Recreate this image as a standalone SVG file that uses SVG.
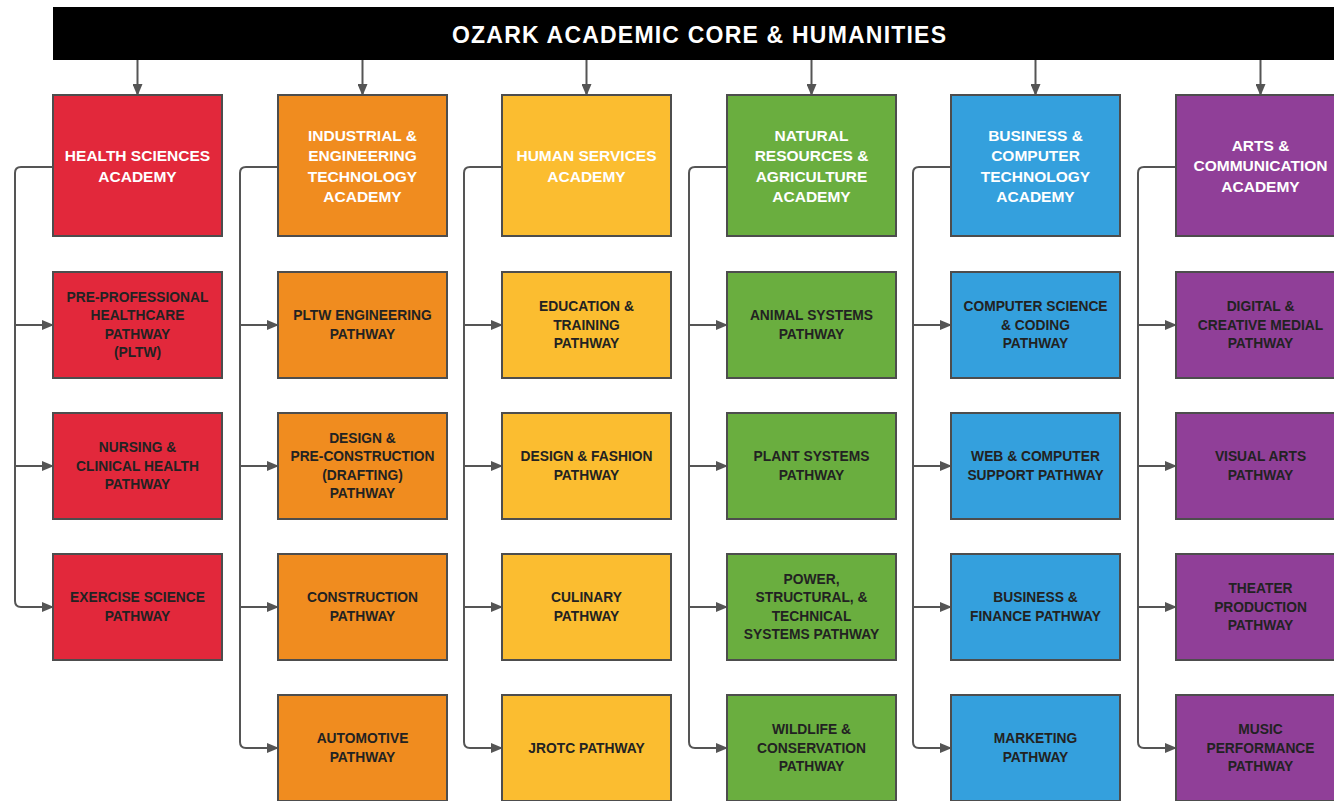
<svg xmlns="http://www.w3.org/2000/svg" width="1334" height="801" viewBox="0 0 1334 801">
<style>
.box{stroke:#4d4d4d;stroke-width:2}
.red{fill:#E2283B}.org{fill:#F08C1F}.yel{fill:#FBBD30}.grn{fill:#6AAE3F}.blu{fill:#34A0DD}.pur{fill:#903F98}
.ac{font-family:"Liberation Sans",Arial,sans-serif;font-weight:bold;font-size:15.5px;fill:#fff;text-anchor:middle}
.pw{font-family:"Liberation Sans",Arial,sans-serif;font-weight:bold;font-size:13.8px;fill:#222;text-anchor:middle}
.ttl{font-family:"Liberation Sans",Arial,sans-serif;font-weight:bold;font-size:23px;fill:#fff;text-anchor:middle}
.con{fill:none;stroke:#555;stroke-width:2}
</style>
<defs>
<marker id="ah" markerUnits="userSpaceOnUse" markerWidth="12" markerHeight="10" refX="11" refY="5" orient="auto">
<path d="M0,0 L12,5 L0,10 Z" fill="#555"/>
</marker>
</defs>
<rect width="1334" height="801" fill="#fff"/>
<g id="banner">
<rect x="53" y="7" width="1290" height="53" fill="#000"/>
<text class="ttl" x="699" y="43" textLength="494" lengthAdjust="spacing">OZARK ACADEMIC CORE &amp; HUMANITIES</text>
</g>
<g id="connectors">
<path class="con" marker-end="url(#ah)" d="M137.5,60 V95"/>
<path class="con" marker-end="url(#ah)" d="M362.5,60 V95"/>
<path class="con" marker-end="url(#ah)" d="M586.5,60 V95"/>
<path class="con" marker-end="url(#ah)" d="M811.5,60 V95"/>
<path class="con" marker-end="url(#ah)" d="M1035.5,60 V95"/>
<path class="con" marker-end="url(#ah)" d="M1260.5,60 V95"/>
<path class="con" marker-end="url(#ah)" d="M53,167 H21 Q15,167 15,173 V601 Q15,607 21,607 H53"/>
<path class="con" marker-end="url(#ah)" d="M15,325 H53"/>
<path class="con" marker-end="url(#ah)" d="M15,466 H53"/>
<path class="con" marker-end="url(#ah)" d="M278,167 H246 Q240,167 240,173 V742 Q240,748 246,748 H278"/>
<path class="con" marker-end="url(#ah)" d="M240,325 H278"/>
<path class="con" marker-end="url(#ah)" d="M240,466 H278"/>
<path class="con" marker-end="url(#ah)" d="M240,607 H278"/>
<path class="con" marker-end="url(#ah)" d="M502,167 H470 Q464,167 464,173 V742 Q464,748 470,748 H502"/>
<path class="con" marker-end="url(#ah)" d="M464,325 H502"/>
<path class="con" marker-end="url(#ah)" d="M464,466 H502"/>
<path class="con" marker-end="url(#ah)" d="M464,607 H502"/>
<path class="con" marker-end="url(#ah)" d="M727,167 H695 Q689,167 689,173 V742 Q689,748 695,748 H727"/>
<path class="con" marker-end="url(#ah)" d="M689,325 H727"/>
<path class="con" marker-end="url(#ah)" d="M689,466 H727"/>
<path class="con" marker-end="url(#ah)" d="M689,607 H727"/>
<path class="con" marker-end="url(#ah)" d="M951,167 H919 Q913,167 913,173 V742 Q913,748 919,748 H951"/>
<path class="con" marker-end="url(#ah)" d="M913,325 H951"/>
<path class="con" marker-end="url(#ah)" d="M913,466 H951"/>
<path class="con" marker-end="url(#ah)" d="M913,607 H951"/>
<path class="con" marker-end="url(#ah)" d="M1176,167 H1144 Q1138,167 1138,173 V742 Q1138,748 1144,748 H1176"/>
<path class="con" marker-end="url(#ah)" d="M1138,325 H1176"/>
<path class="con" marker-end="url(#ah)" d="M1138,466 H1176"/>
<path class="con" marker-end="url(#ah)" d="M1138,607 H1176"/>
</g>

<!-- Column 1: Health Sciences -->
<g id="health-academy"><rect class="box red" x="53" y="95" width="169" height="141"/>
<text class="ac"><tspan x="137.5" y="161">HEALTH SCIENCES</tspan><tspan x="137.5" y="181.5">ACADEMY</tspan></text></g>
<g id="health-p1"><rect class="box red" x="53" y="272" width="169" height="106"/>
<text class="pw"><tspan x="137.5" y="301.95">PRE-PROFESSIONAL</tspan><tspan x="137.5" y="320.45">HEALTHCARE</tspan><tspan x="137.5" y="338.95">PATHWAY</tspan><tspan x="137.5" y="357.45">(PLTW)</tspan></text></g>
<g id="health-p2"><rect class="box red" x="53" y="413" width="169" height="106"/>
<text class="pw"><tspan x="137.5" y="452.2">NURSING &amp;</tspan><tspan x="137.5" y="470.7">CLINICAL HEALTH</tspan><tspan x="137.5" y="489.2">PATHWAY</tspan></text></g>
<g id="health-p3"><rect class="box red" x="53" y="554" width="169" height="106"/>
<text class="pw"><tspan x="137.5" y="602.45">EXERCISE SCIENCE</tspan><tspan x="137.5" y="620.95">PATHWAY</tspan></text></g>

<!-- Column 2: Industrial & Engineering -->
<g id="industrial-academy"><rect class="box org" x="278" y="95" width="169" height="141"/>
<text class="ac"><tspan x="362.5" y="140.5">INDUSTRIAL &amp;</tspan><tspan x="362.5" y="161">ENGINEERING</tspan><tspan x="362.5" y="181.5">TECHNOLOGY</tspan><tspan x="362.5" y="202">ACADEMY</tspan></text></g>
<g id="industrial-p1"><rect class="box org" x="278" y="272" width="169" height="106"/>
<text class="pw"><tspan x="362.5" y="320.45">PLTW ENGINEERING</tspan><tspan x="362.5" y="338.95">PATHWAY</tspan></text></g>
<g id="industrial-p2"><rect class="box org" x="278" y="413" width="169" height="106"/>
<text class="pw"><tspan x="362.5" y="442.95">DESIGN &amp;</tspan><tspan x="362.5" y="461.45">PRE-CONSTRUCTION</tspan><tspan x="362.5" y="479.95">(DRAFTING)</tspan><tspan x="362.5" y="498.45">PATHWAY</tspan></text></g>
<g id="industrial-p3"><rect class="box org" x="278" y="554" width="169" height="106"/>
<text class="pw"><tspan x="362.5" y="602.45">CONSTRUCTION</tspan><tspan x="362.5" y="620.95">PATHWAY</tspan></text></g>
<g id="industrial-p4"><rect class="box org" x="278" y="695" width="169" height="106"/>
<text class="pw"><tspan x="362.5" y="743.45">AUTOMOTIVE</tspan><tspan x="362.5" y="761.95">PATHWAY</tspan></text></g>

<!-- Column 3: Human Services -->
<g id="human-academy"><rect class="box yel" x="502" y="95" width="169" height="141"/>
<text class="ac"><tspan x="586.5" y="161">HUMAN SERVICES</tspan><tspan x="586.5" y="181.5">ACADEMY</tspan></text></g>
<g id="human-p1"><rect class="box yel" x="502" y="272" width="169" height="106"/>
<text class="pw"><tspan x="586.5" y="311.2">EDUCATION &amp;</tspan><tspan x="586.5" y="329.7">TRAINING</tspan><tspan x="586.5" y="348.2">PATHWAY</tspan></text></g>
<g id="human-p2"><rect class="box yel" x="502" y="413" width="169" height="106"/>
<text class="pw"><tspan x="586.5" y="461.45">DESIGN &amp; FASHION</tspan><tspan x="586.5" y="479.95">PATHWAY</tspan></text></g>
<g id="human-p3"><rect class="box yel" x="502" y="554" width="169" height="106"/>
<text class="pw"><tspan x="586.5" y="602.45">CULINARY</tspan><tspan x="586.5" y="620.95">PATHWAY</tspan></text></g>
<g id="human-p4"><rect class="box yel" x="502" y="695" width="169" height="106"/>
<text class="pw"><tspan x="586.5" y="752.7">JROTC PATHWAY</tspan></text></g>

<!-- Column 4: Natural Resources -->
<g id="natural-academy"><rect class="box grn" x="727" y="95" width="169" height="141"/>
<text class="ac"><tspan x="811.5" y="140.5">NATURAL</tspan><tspan x="811.5" y="161">RESOURCES &amp;</tspan><tspan x="811.5" y="181.5">AGRICULTURE</tspan><tspan x="811.5" y="202">ACADEMY</tspan></text></g>
<g id="natural-p1"><rect class="box grn" x="727" y="272" width="169" height="106"/>
<text class="pw"><tspan x="811.5" y="320.45">ANIMAL SYSTEMS</tspan><tspan x="811.5" y="338.95">PATHWAY</tspan></text></g>
<g id="natural-p2"><rect class="box grn" x="727" y="413" width="169" height="106"/>
<text class="pw"><tspan x="811.5" y="461.45">PLANT SYSTEMS</tspan><tspan x="811.5" y="479.95">PATHWAY</tspan></text></g>
<g id="natural-p3"><rect class="box grn" x="727" y="554" width="169" height="106"/>
<text class="pw"><tspan x="811.5" y="583.95">POWER,</tspan><tspan x="811.5" y="602.45">STRUCTURAL, &amp;</tspan><tspan x="811.5" y="620.95">TECHNICAL</tspan><tspan x="811.5" y="639.45">SYSTEMS PATHWAY</tspan></text></g>
<g id="natural-p4"><rect class="box grn" x="727" y="695" width="169" height="106"/>
<text class="pw"><tspan x="811.5" y="734.2">WILDLIFE &amp;</tspan><tspan x="811.5" y="752.7">CONSERVATION</tspan><tspan x="811.5" y="771.2">PATHWAY</tspan></text></g>

<!-- Column 5: Business & Computer Technology -->
<g id="business-academy"><rect class="box blu" x="951" y="95" width="169" height="141"/>
<text class="ac"><tspan x="1035.5" y="140.5">BUSINESS &amp;</tspan><tspan x="1035.5" y="161">COMPUTER</tspan><tspan x="1035.5" y="181.5">TECHNOLOGY</tspan><tspan x="1035.5" y="202">ACADEMY</tspan></text></g>
<g id="business-p1"><rect class="box blu" x="951" y="272" width="169" height="106"/>
<text class="pw"><tspan x="1035.5" y="311.2">COMPUTER SCIENCE</tspan><tspan x="1035.5" y="329.7">&amp; CODING</tspan><tspan x="1035.5" y="348.2">PATHWAY</tspan></text></g>
<g id="business-p2"><rect class="box blu" x="951" y="413" width="169" height="106"/>
<text class="pw"><tspan x="1035.5" y="461.45">WEB &amp; COMPUTER</tspan><tspan x="1035.5" y="479.95">SUPPORT PATHWAY</tspan></text></g>
<g id="business-p3"><rect class="box blu" x="951" y="554" width="169" height="106"/>
<text class="pw"><tspan x="1035.5" y="602.45">BUSINESS &amp;</tspan><tspan x="1035.5" y="620.95">FINANCE PATHWAY</tspan></text></g>
<g id="business-p4"><rect class="box blu" x="951" y="695" width="169" height="106"/>
<text class="pw"><tspan x="1035.5" y="743.45">MARKETING</tspan><tspan x="1035.5" y="761.95">PATHWAY</tspan></text></g>

<!-- Column 6: Arts & Communication -->
<g id="arts-academy"><rect class="box pur" x="1176" y="95" width="169" height="141"/>
<text class="ac"><tspan x="1260.5" y="150.75">ARTS &amp;</tspan><tspan x="1260.5" y="171.25">COMMUNICATION</tspan><tspan x="1260.5" y="191.75">ACADEMY</tspan></text></g>
<g id="arts-p1"><rect class="box pur" x="1176" y="272" width="169" height="106"/>
<text class="pw"><tspan x="1260.5" y="311.2">DIGITAL &amp;</tspan><tspan x="1260.5" y="329.7">CREATIVE MEDIAL</tspan><tspan x="1260.5" y="348.2">PATHWAY</tspan></text></g>
<g id="arts-p2"><rect class="box pur" x="1176" y="413" width="169" height="106"/>
<text class="pw"><tspan x="1260.5" y="461.45">VISUAL ARTS</tspan><tspan x="1260.5" y="479.95">PATHWAY</tspan></text></g>
<g id="arts-p3"><rect class="box pur" x="1176" y="554" width="169" height="106"/>
<text class="pw"><tspan x="1260.5" y="593.2">THEATER</tspan><tspan x="1260.5" y="611.7">PRODUCTION</tspan><tspan x="1260.5" y="630.2">PATHWAY</tspan></text></g>
<g id="arts-p4"><rect class="box pur" x="1176" y="695" width="169" height="106"/>
<text class="pw"><tspan x="1260.5" y="734.2">MUSIC</tspan><tspan x="1260.5" y="752.7">PERFORMANCE</tspan><tspan x="1260.5" y="771.2">PATHWAY</tspan></text></g>
</svg>
